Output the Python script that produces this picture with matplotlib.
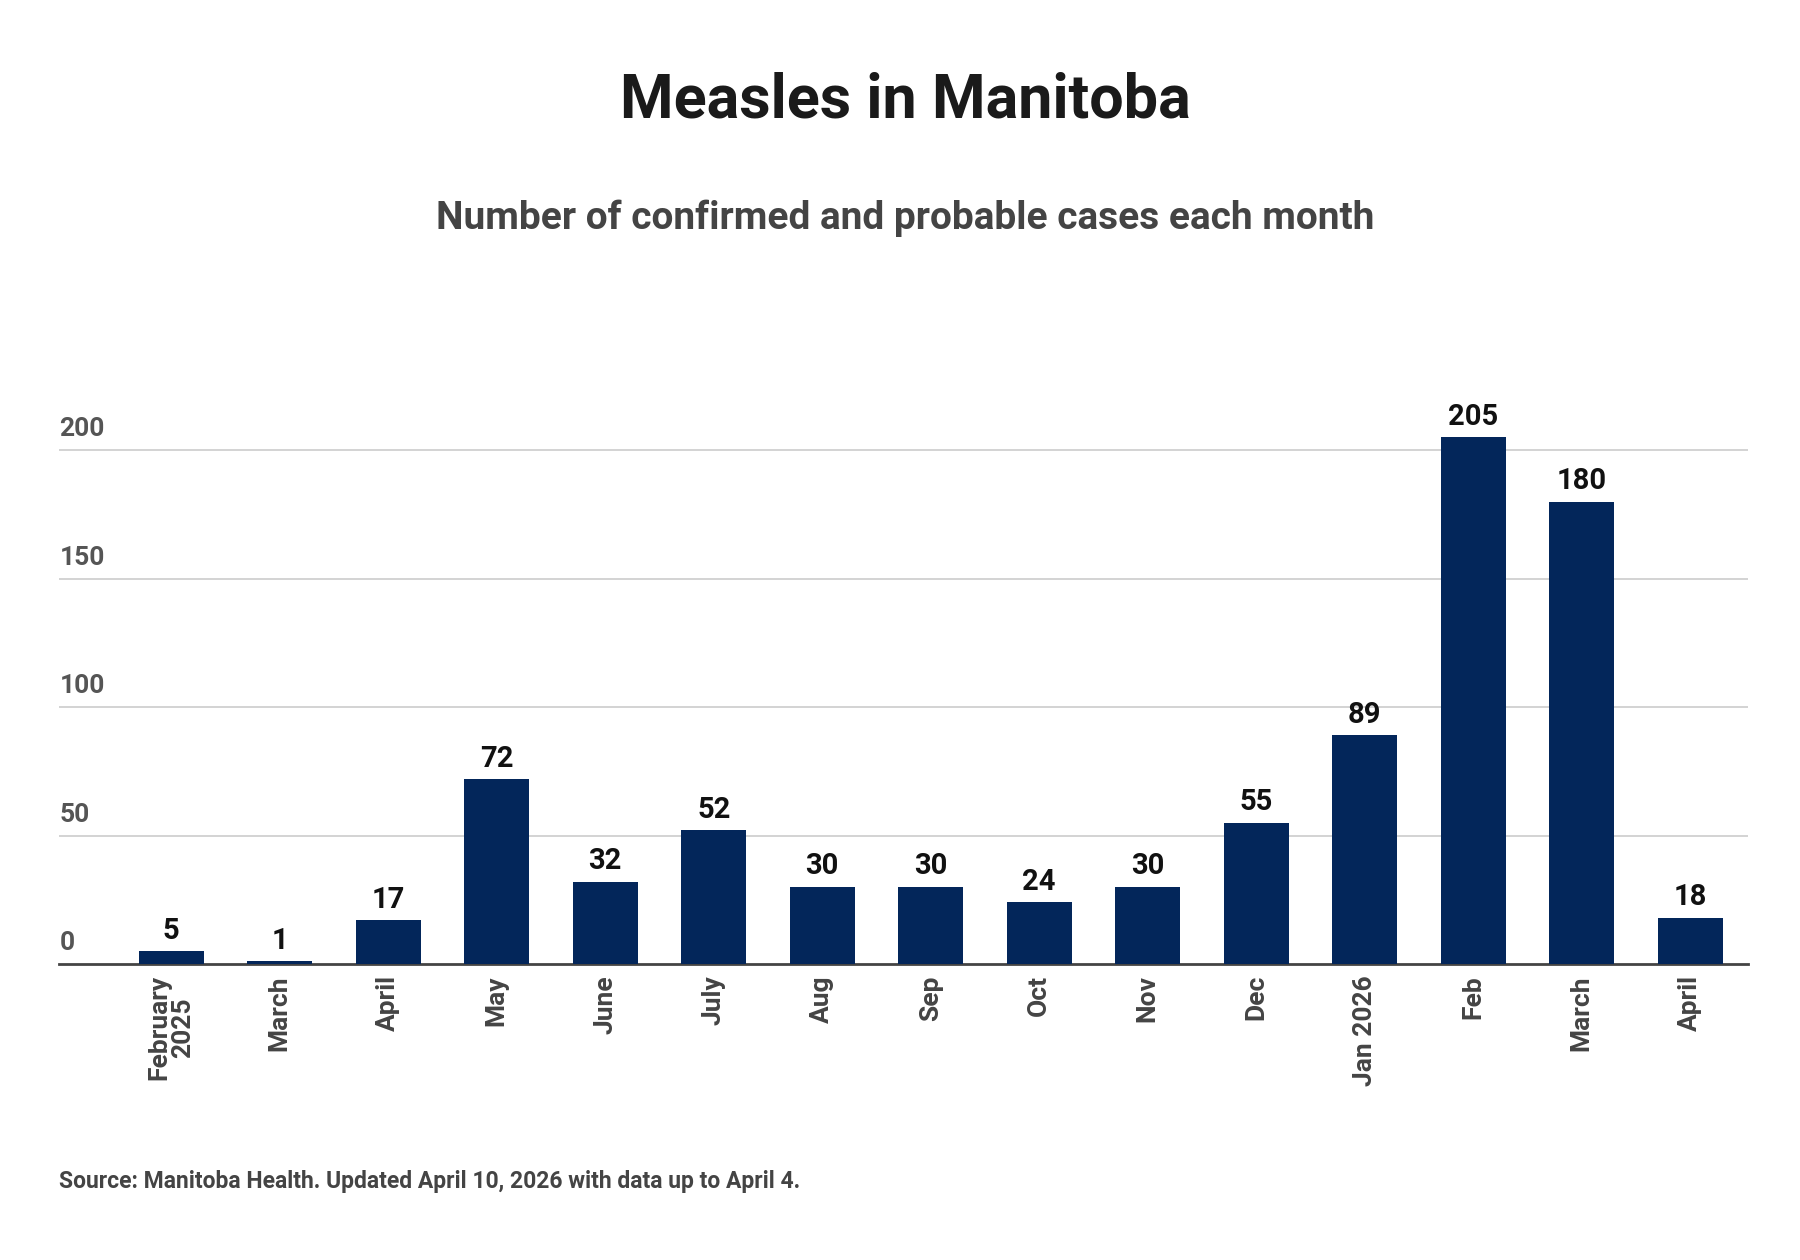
import matplotlib
matplotlib.use("Agg")
import matplotlib.pyplot as plt

months = ["February\n2025", "March", "April", "May", "June", "July", "Aug", "Sep",
          "Oct", "Nov", "Dec", "Jan 2026", "Feb", "March", "April"]
cases = [5, 1, 17, 72, 32, 52, 30, 30, 24, 30, 55, 89, 205, 180, 18]
yticks = [0, 50, 100, 150, 200]

plt.rcParams['font.family'] = ['Roboto', 'DejaVu Sans']
bar_color = "#03265a"

fig = plt.figure(figsize=(18, 12.6), dpi=100)
ax = fig.add_axes([0.033, 0.235, 0.938, 0.428])

x = list(range(len(cases)))
ax.bar(x, cases, width=0.6, color=bar_color, zorder=3)
for xi, v in zip(x, cases):
    ax.text(xi, v + 2.5, str(v), ha="center", va="bottom", fontsize=21,
            fontweight="bold", color="#111111")

ax.set_xlim(-1.03, 14.53)
ax.set_ylim(0, 210)
ax.set_yticks(yticks)
ax.set_yticklabels([])
ax.tick_params(axis="y", length=0)
for t in yticks:
    if t > 0:
        ax.axhline(t, color="#cccccc", linewidth=1.2, zorder=1)
    ax.text(-1.03, t + 3.5, str(t), ha="left", va="bottom", fontsize=19,
            fontweight="bold", color="#555555")

ax.set_xticks(x)
ax.set_xticklabels(months, rotation=90, fontsize=19, fontweight="bold",
                   color="#444444", va="top", linespacing=0.95)
ax.tick_params(axis="x", length=0, pad=8)
for s in ["top", "right", "left"]:
    ax.spines[s].set_visible(False)
ax.spines["bottom"].set_color("#444444")
ax.spines["bottom"].set_linewidth(2)

fig.text(0.503, 0.92, "Measles in Manitoba", ha="center", va="center",
         fontsize=44, fontweight="bold", color="#1a1a1a")
fig.text(0.503, 0.827, "Number of confirmed and probable cases each month",
         ha="center", va="center", fontsize=28, fontweight="bold", color="#444444")
fig.text(0.033, 0.062, "Source: Manitoba Health. Updated April 10, 2026 with data up to April 4.",
         ha="left", va="center", fontsize=16.5, fontweight="bold", color="#444444")

fig.savefig("out.png", dpi=100, facecolor="white")
